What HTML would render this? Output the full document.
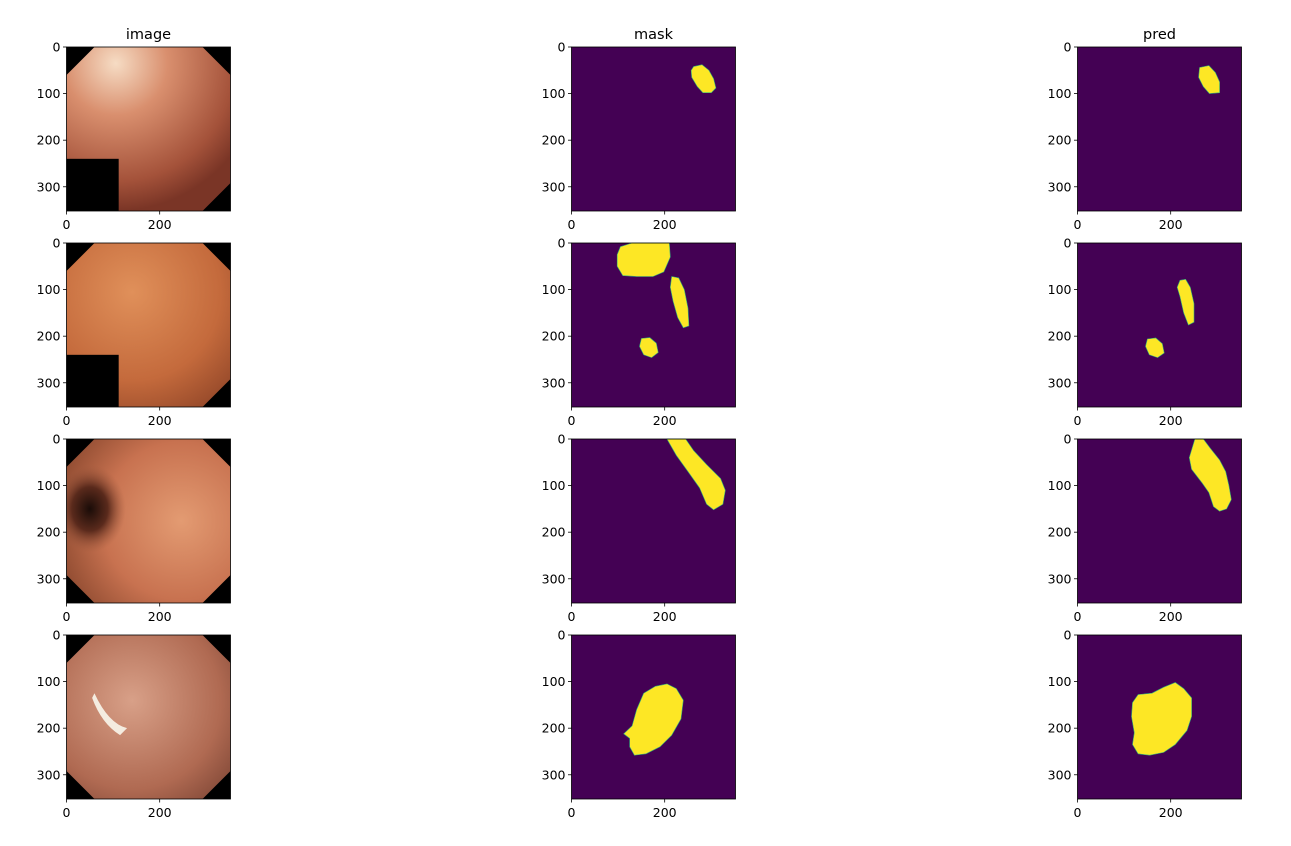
<!DOCTYPE html>
<html><head><meta charset="utf-8">
<style>
html,body{margin:0;padding:0;background:#fff;}
svg{display:block;font-family:"DejaVu Sans","Liberation Sans",sans-serif;}
</style></head>
<body>
<svg id="fig" width="1291" height="846" viewBox="0 0 1291 846" xmlns="http://www.w3.org/2000/svg">
<defs>
<radialGradient id="g1" cx="0.3" cy="0.1" r="0.9"><stop offset="0" stop-color="#f6dcc4"/><stop offset="0.35" stop-color="#d98f6e"/><stop offset="0.8" stop-color="#a4523a"/><stop offset="1" stop-color="#7a3526"/></radialGradient>
<radialGradient id="g2" cx="0.4" cy="0.3" r="0.9"><stop offset="0" stop-color="#e0905a"/><stop offset="0.6" stop-color="#c46a3c"/><stop offset="1" stop-color="#8c4226"/></radialGradient>
<radialGradient id="g3" cx="0.7" cy="0.5" r="0.8"><stop offset="0" stop-color="#e39b72"/><stop offset="0.6" stop-color="#c87250"/><stop offset="1" stop-color="#8e4a30"/></radialGradient>
<radialGradient id="g4" cx="0.4" cy="0.4" r="0.9"><stop offset="0" stop-color="#d8a088"/><stop offset="0.6" stop-color="#b06a52"/><stop offset="1" stop-color="#6e3a2c"/></radialGradient>
<radialGradient id="tun" cx="0.5" cy="0.5" r="0.5"><stop offset="0" stop-color="#1a0c08"/><stop offset="0.5" stop-color="#5a2a1c"/><stop offset="1" stop-color="#a05a3e" stop-opacity="0"/></radialGradient>
</defs>
<g id="root"></g>
</svg>
<script>
const colX = [66.5, 571.5, 1077.5];
const rowY = [47, 243, 439, 635];
const AX = 164, EXT = 352;
const colTitles = ["image", "mask", "pred"];
const xTicks = [0, 200];
const yTicks = [0, 100, 200, 300];
const maskBlobs = [
 [[262,42,280,38,295,50,305,68,310,88,300,98,282,98,270,85,258,65,257,50]],
 [[105,8,130,0,210,0,212,30,198,62,175,72,140,72,110,70,98,50,98,25],[215,72,230,75,242,100,250,140,252,178,240,182,228,160,218,125,212,95],[150,205,168,203,182,215,186,235,172,246,155,240,146,222]],
 [[205,0,245,0,262,25,290,55,320,85,330,110,325,140,305,152,290,140,275,105,250,70,225,35]],
 [[155,125,180,110,205,105,225,115,240,140,235,180,215,215,190,240,160,255,135,258,125,240,125,222,112,212,130,195,140,160]]
];
const predBlobs = [
 [[262,44,282,40,296,55,305,75,305,98,283,100,270,85,260,65]],
 [[220,80,232,78,242,95,250,130,250,170,238,176,228,150,220,115,214,95],[150,206,168,204,182,216,186,236,172,246,154,240,146,222]],
 [[252,0,270,0,285,20,305,45,318,70,325,100,330,130,320,150,305,155,292,145,282,115,268,95,245,65,240,40]],
 [[130,128,160,125,185,112,210,102,228,115,245,135,245,175,235,205,210,235,185,252,155,258,130,255,118,235,122,210,116,175,118,145]]
];
const photoFill = ["url(#g1)","url(#g2)","url(#g3)","url(#g4)"];
const hasBlackSquare = [true, true, false, false];

const NS = "http://www.w3.org/2000/svg";
const root = document.getElementById('root');
const defs = document.querySelector('defs');
function mk(tag, attrs, parent){const e=document.createElementNS(NS,tag);for(const k in attrs)e.setAttribute(k,attrs[k]);(parent||root).appendChild(e);return e;}
function sx(c,v){return colX[c]+v/EXT*AX;}
function sy(r,v){return rowY[r]+v/EXT*AX;}
function poly(c,r,pts){let s=[];for(let i=0;i<pts.length;i+=2)s.push(sx(c,pts[i]).toFixed(1)+','+sy(r,pts[i+1]).toFixed(1));return s.join(' ');}

for(let c=0;c<3;c++){
  const t=mk('text',{x:colX[c]+AX/2,y:39,'text-anchor':'middle','font-size':'14.5',fill:'#000'});
  
  
  t.textContent=colTitles[c];
}

for(let r=0;r<4;r++){
  const cp=mk('clipPath',{id:'clip'+r},defs);
  mk('rect',{x:colX[0],y:rowY[r],width:AX,height:AX},cp);
  for(let c=0;c<3;c++){
    const g=mk('g',{});
    
    
    if(c===0){
      const pg=mk('g',{'clip-path':'url(#clip'+r+')'},g);
      mk('rect',{x:colX[c],y:rowY[r],width:AX,height:AX,fill:'#000'},pg);
      const oct=[60,0,292,0,352,60,352,292,292,352,60,352,0,292,0,60];
      const p=mk('polygon',{points:poly(c,r,oct),fill:photoFill[r]},pg);
      
      
      if(r===2){mk('ellipse',{cx:sx(c,50),cy:sy(r,150),rx:36,ry:44,fill:'url(#tun)'},pg);}
      if(r===3){mk('path',{d:'M'+sx(c,60)+' '+sy(r,125)+' Q'+sx(c,90)+' '+sy(r,190)+' '+sx(c,130)+' '+sy(r,200)+' L'+sx(c,115)+' '+sy(r,215)+' Q'+sx(c,75)+' '+sy(r,190)+' '+sx(c,55)+' '+sy(r,135)+' Z',fill:'#f4ece0'},pg);}
      if(hasBlackSquare[r]){mk('rect',{x:colX[c],y:sy(r,240),width:112/EXT*AX,height:112/EXT*AX,fill:'#000'},pg);}
    } else {
      mk('rect',{x:colX[c],y:rowY[r],width:AX,height:AX,fill:'#440154'},g);
      const blobs=(c===1?maskBlobs:predBlobs)[r];
      blobs.forEach((b,i)=>{
        const p=mk('polygon',{points:poly(c,r,b),fill:'#fde725',stroke:'#35b779','stroke-width':'0.6'},g);
        
        
      });
    }
    mk('rect',{x:colX[c],y:rowY[r],width:AX,height:AX,fill:'none',stroke:'#000','stroke-width':'0.8'},g);
    yTicks.forEach(v=>{
      const y=sy(r,v);
      mk('line',{x1:colX[c]-3.5,y1:y,x2:colX[c],y2:y,stroke:'#000','stroke-width':'0.8'},g);
      const t=mk('text',{x:colX[c]-6,y:y+4.5,'text-anchor':'end','font-size':'12.5',fill:'#000'},g);
      
      
      t.textContent=v;
    });
    xTicks.forEach(v=>{
      const x=sx(c,v);
      mk('line',{x1:x,y1:rowY[r]+AX,x2:x,y2:rowY[r]+AX+3.5,stroke:'#000','stroke-width':'0.8'},g);
      const t=mk('text',{x:x,y:rowY[r]+AX+18,'text-anchor':'middle','font-size':'12.5',fill:'#000'},g);
      
      
      t.textContent=v;
    });
  }
}
</script>
</body></html>
